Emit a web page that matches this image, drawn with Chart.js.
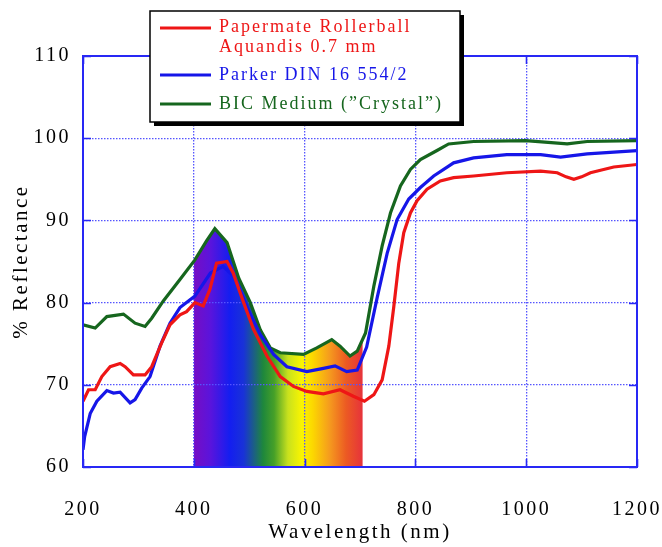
<!DOCTYPE html>
<html>
<head>
<meta charset="utf-8">
<script src="https://cdn.jsdelivr.net/npm/chart.js@4"></script>
<style>
  html, body { margin: 0; padding: 0; background: #ffffff; }
  #wrap { width: 662px; height: 547px; position: relative; }
</style>
</head>
<body>
<div id="wrap"><canvas id="c" width="662" height="547"></canvas></div>
<script>
// ---- data ----
const xTicks = [200, 400, 600, 800, 1000, 1200];
const yTicks = [60, 70, 80, 90, 100, 110];

const redLabel = 'Papermate Rollerball Aquandis 0.7 mm';
const redLegendLines = ['Papermate Rollerball', 'Aquandis 0.7 mm'];
const redWl = [200,210,222,234,249,267,276,291,312,324,342,357,375,387,402,417,429,441,460,471,490,508,532,556,580,604,634,664,688,708,725,740,752,761,770,779,791,803,821,845,869,905,965,1026,1056,1072,1086,1100,1116,1158,1200];
const redR  = [68.0,69.4,69.4,71.0,72.2,72.6,72.2,71.2,71.2,72.2,75.1,77.3,78.5,78.9,80.0,79.6,81.6,84.8,85.0,83.6,80.0,76.7,73.5,71.0,69.8,69.2,68.9,69.4,68.6,68.0,68.8,70.6,74.7,79.5,84.8,88.5,90.9,92.4,93.8,94.8,95.2,95.4,95.8,96.0,95.8,95.3,95.0,95.3,95.8,96.5,96.8];

const blueLabel = 'Parker DIN 16 554/2';
const blueWl = [200,203,213,225,243,255,267,285,294,306,321,339,357,375,402,430,453,472,496,520,544,568,604,634,655,676,695,712,731,749,767,788,809,833,860,869,905,965,1026,1062,1110,1200];
const blueR  = [62.1,63.7,66.5,68.0,69.3,69.0,69.1,67.8,68.2,69.6,71.0,74.7,77.5,79.4,80.8,83.6,84.4,83.2,79.5,76.1,73.7,72.2,71.6,72.0,72.3,71.6,71.8,74.6,80.6,86.0,90.1,92.6,94.0,95.4,96.6,97.0,97.6,98.0,98.0,97.7,98.1,98.5];

const greenLabel = 'BIC Medium (\u201DCrystal\u201D)';
const greenWl = [200,222,243,273,294,312,324,345,375,402,423,438,460,481,502,520,538,556,598,622,649,664,682,695,710,725,740,755,773,791,809,839,860,905,999,1074,1110,1200];
const greenR  = [77.3,76.9,78.3,78.6,77.5,77.1,78.1,80.2,82.8,85.2,87.5,89.0,87.3,83.0,80.0,76.7,74.5,73.9,73.7,74.5,75.5,74.7,73.5,74.1,76.3,82.0,86.9,90.9,94.2,96.2,97.4,98.5,99.3,99.6,99.7,99.3,99.6,99.7];

// visible spectrum band (400–705 nm), top follows the green curve
const bandWl = [400,423,438,460,481,502,520,538,556,598,622,649,664,682,695,705];
const bandR  = [85.0,87.5,89.0,87.3,83.0,80.0,76.7,74.5,73.9,73.7,74.5,75.5,74.7,73.5,74.1,75.5];

const toXY = (xs, ys) => xs.map((x, i) => ({x: x, y: ys[i]}));

// ---- styles ----
const RED = 'rgb(238,22,22)';
const BLUE = 'rgb(22,22,232)';
const GREEN = 'rgb(22,102,30)';
const AXIS_BLUE = 'rgb(40,40,245)';
const GRID_BLUE = 'rgb(85,85,255)';
const SERIF = "'Liberation Serif', 'Times New Roman', serif";

function spectrumGradient(ctx) {
  const chart = ctx.chart;
  if (!chart.chartArea) return 'rgba(120,0,200,1)';
  const xs = chart.scales.x;
  const x0 = xs.getPixelForValue(400), x1 = xs.getPixelForValue(705);
  const g = chart.ctx.createLinearGradient(x0, 0, x1, 0);
  const stops = [
    [400, 'rgb(118,14,196)'],
    [430, 'rgb(90,20,220)'],
    [465, 'rgb(20,30,240)'],
    [490, 'rgb(25,50,215)'],
    [525, 'rgb(30,135,60)'],
    [545, 'rgb(70,160,40)'],
    [570, 'rgb(200,225,30)'],
    [595, 'rgb(250,245,0)'],
    [615, 'rgb(252,215,0)'],
    [645, 'rgb(245,155,30)'],
    [675, 'rgb(236,90,35)'],
    [705, 'rgb(230,50,60)']
  ];
  stops.forEach(s => g.addColorStop((s[0] - 400) / 305, s[1]));
  return g;
}

const letterSpacingPlugin = {
  id: 'letterSpacing',
  beforeDraw(chart) { chart.ctx.letterSpacing = '2.5px'; }
};

const framePlugin = {
  id: 'frame',
  afterDatasetsDraw(chart) {
    const {ctx, chartArea: a, scales} = chart;
    ctx.save();
    ctx.strokeStyle = AXIS_BLUE;
    ctx.lineWidth = 1.6;
    const tl = 8;
    ctx.beginPath();
    xTicks.forEach(v => {
      const px = Math.round(scales.x.getPixelForValue(v)) + 0.5;
      ctx.moveTo(px, a.bottom); ctx.lineTo(px, a.bottom - tl);
      ctx.moveTo(px, a.top); ctx.lineTo(px, a.top + tl);
    });
    yTicks.forEach(v => {
      const py = Math.round(scales.y.getPixelForValue(v)) + 0.5;
      ctx.moveTo(a.left, py); ctx.lineTo(a.left + tl, py);
      ctx.moveTo(a.right, py); ctx.lineTo(a.right - tl, py);
    });
    ctx.stroke();
    ctx.lineWidth = 2;
    ctx.strokeRect(a.left, a.top, a.right - a.left, a.bottom - a.top);
    ctx.restore();
  }
};

const legendPlugin = {
  id: 'boxLegend',
  afterDraw(chart) {
    const ctx = chart.ctx;
    const bx = 150, by = 11, bw = 310, bh = 111;
    ctx.save();
    ctx.fillStyle = '#000';
    ctx.fillRect(bx + 4, by + 4, bw, bh);
    ctx.fillStyle = '#fff';
    ctx.fillRect(bx, by, bw, bh);
    ctx.strokeStyle = '#000';
    ctx.lineWidth = 1.5;
    ctx.strokeRect(bx, by, bw, bh);
    const ds = chart.data.datasets.filter(d => d.legendLines);
    const lineYs = [28, 75, 104];
    const textYs = [[27, 47], [75], [104]];
    ctx.font = '18px ' + SERIF;
    ctx.letterSpacing = '2px';
    ctx.textBaseline = 'middle';
    ctx.textAlign = 'left';
    ds.forEach((d, i) => {
      ctx.strokeStyle = d.borderColor;
      ctx.lineWidth = 3;
      ctx.beginPath();
      ctx.moveTo(160, lineYs[i]); ctx.lineTo(211, lineYs[i]);
      ctx.stroke();
      ctx.fillStyle = d.borderColor;
      d.legendLines.forEach((t, j) => ctx.fillText(t, 219, textYs[i][j]));
    });
    ctx.restore();
  }
};

const lineDefaults = { borderWidth: 3.2, pointRadius: 0, tension: 0, fill: false };

new Chart(document.getElementById('c'), {
  type: 'line',
  data: {
    datasets: [
      Object.assign({}, lineDefaults, { label: redLabel, legendLines: redLegendLines, data: toXY(redWl, redR), borderColor: RED, order: 1 }),
      Object.assign({}, lineDefaults, { label: blueLabel, legendLines: [blueLabel], data: toXY(blueWl, blueR), borderColor: BLUE, order: 2 }),
      Object.assign({}, lineDefaults, { label: greenLabel, legendLines: [greenLabel], data: toXY(greenWl, greenR), borderColor: GREEN, order: 3 }),
      { label: 'visible spectrum', data: toXY(bandWl, bandR), borderWidth: 0, pointRadius: 0, tension: 0,
        fill: 'start', backgroundColor: spectrumGradient, borderColor: 'rgba(0,0,0,0)', order: 10 }
    ]
  },
  options: {
    responsive: false,
    animation: false,
    layout: { padding: { left: 0, right: 25, top: 56, bottom: 0 } },
    plugins: { legend: { display: false }, tooltip: { enabled: false }, filler: { drawTime: 'beforeDraw' } },
    scales: {
      x: {
        type: 'linear', min: 200, max: 1200,
        afterBuildTicks: s => { s.ticks = xTicks.map(v => ({value: v})); },
        afterFit: s => { s.height = 80; s.paddingLeft = 0; s.paddingRight = 0; },
        grid: { color: GRID_BLUE, lineWidth: 1.3, drawTicks: false },
        border: { display: false, dash: [1.5, 1.5] },
        ticks: { color: '#000', font: { family: SERIF, size: 20 }, padding: 31, maxRotation: 0, autoSkip: false, callback: v => String(v) },
        title: { display: true, text: 'Wavelength (nm)', color: '#000', font: { family: SERIF, size: 21 }, padding: { top: 0, bottom: 2 } }
      },
      y: {
        type: 'linear', min: 60, max: 110,
        afterBuildTicks: s => { s.ticks = yTicks.map(v => ({value: v})); },
        afterFit: s => { s.width = 83; s.paddingTop = 0; s.paddingBottom = 0; },
        grid: { color: GRID_BLUE, lineWidth: 1.3, drawTicks: false },
        border: { display: false, dash: [1.5, 1.5] },
        ticks: { color: '#000', font: { family: SERIF, size: 20 }, padding: 12, autoSkip: false, callback: v => String(v) },
        title: { display: true, text: '% Reflectance', color: '#000', font: { family: SERIF, size: 21 }, padding: { top: 9, bottom: 0 } }
      }
    }
  },
  plugins: [letterSpacingPlugin, framePlugin, legendPlugin]
});
</script>
</body>
</html>
